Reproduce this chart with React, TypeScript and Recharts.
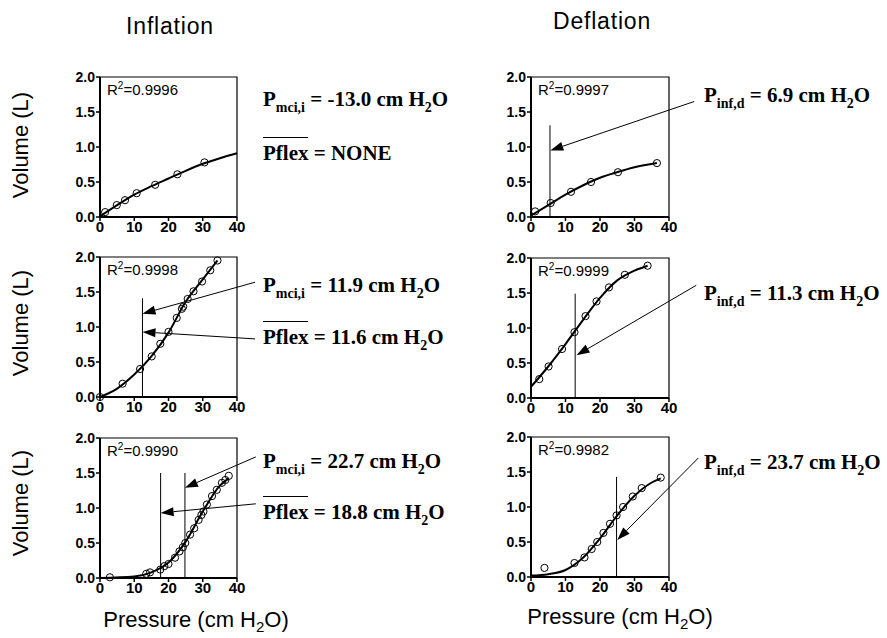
import React from 'react';
import { ComposedChart, Line, Scatter, XAxis, YAxis, ReferenceLine, ReferenceArea } from 'recharts';

type Pt = { x: number; y: number };
const pts = (rows: number[][]): Pt[] => rows.map(([x, y]) => ({ x, y }));

// axis ticks
const pressureTicks = [0, 10, 20, 30, 40];
const volumeTicks = [0, 0.5, 1.0, 1.5, 2.0];

// Inflation, top row
const inflTopPoints = pts([[1.5, 0.07], [4.9, 0.17], [7.3, 0.24], [10.7, 0.34], [16.1, 0.46], [22.6, 0.61], [30.5, 0.78]]);
const inflTopCurve = pts([[0, 0.01], [5, 0.17], [10, 0.32], [15, 0.44], [20, 0.55], [25, 0.66], [30, 0.76], [35, 0.84], [40, 0.91]]);

// Inflation, middle row
const inflMidPoints = pts([[0, 0], [6.6, 0.19], [11.7, 0.4], [15.1, 0.58], [17.6, 0.76], [20.0, 0.93], [22.4, 1.13], [23.9, 1.26], [24.3, 1.29], [25.6, 1.4], [27.3, 1.51], [29.8, 1.65], [32.2, 1.81], [34.3, 1.95]]);
const inflMidCurve = pts([[0, 0], [5, 0.12], [10, 0.32], [15, 0.58], [20, 0.92], [25, 1.36], [30, 1.68], [34.3, 1.95]]);
const inflMidMarkers = [12.4];

// Inflation, bottom row
const inflBotPoints = pts([[2.9, 0.01], [13.5, 0.06], [14.6, 0.08], [17.6, 0.12], [18.8, 0.17], [20.0, 0.2], [21.9, 0.29], [23.2, 0.38], [24.2, 0.44], [24.9, 0.5], [26.3, 0.62], [27.5, 0.71], [28.8, 0.83], [29.6, 0.9], [30.2, 0.95], [31.2, 1.05], [32.7, 1.17], [34.1, 1.26], [35.6, 1.36], [36.6, 1.4], [37.6, 1.46]]);
const inflBotCurve = pts([[0, 0], [10, 0.02], [15, 0.08], [20, 0.22], [25, 0.52], [30, 0.95], [35, 1.32], [37.5, 1.42]]);
const inflBotMarkers = [17.7, 24.8];

// Deflation, top row
const deflTopPoints = pts([[1.2, 0.08], [5.7, 0.2], [11.6, 0.36], [17.4, 0.5], [25.2, 0.64], [36.5, 0.77]]);
const deflTopCurve = pts([[0, 0.02], [5, 0.17], [10, 0.32], [15, 0.45], [20, 0.56], [25, 0.64], [30, 0.71], [36.5, 0.77]]);
const deflTopMarkers = [5.5];

// Deflation, middle row
const deflMidPoints = pts([[2.4, 0.27], [5.1, 0.45], [9.0, 0.7], [12.6, 0.94], [15.8, 1.17], [19.0, 1.38], [22.6, 1.58], [27.2, 1.76], [33.8, 1.89]]);
const deflMidCurve = pts([[0, 0.16], [5, 0.45], [10, 0.77], [15, 1.11], [20, 1.43], [25, 1.68], [30, 1.82], [33.8, 1.89]]);
const deflMidMarkers = [12.8];

// Deflation, bottom row
const deflBotPoints = pts([[3.9, 0.13], [12.6, 0.2], [15.5, 0.28], [17.6, 0.4], [19.2, 0.5], [21.0, 0.63], [22.9, 0.76], [24.8, 0.88], [26.7, 1.0], [29.5, 1.15], [32.1, 1.27], [37.6, 1.42]]);
const deflBotCurve = pts([[0, 0.02], [5, 0.04], [10, 0.1], [15, 0.27], [20, 0.55], [25, 0.88], [30, 1.16], [35, 1.35], [37.6, 1.41]]);
const deflBotMarkers = [24.8];

const SANS = '"Liberation Sans", Arial, sans-serif';
const SERIF = '"Liberation Serif", "Times New Roman", serif';

const Arrow = (p: any) => {
  const { x1, y1, x2, y2 } = p;
  const a = Math.atan2(y2 - y1, x2 - x1);
  const len = 13, w = 4.5;
  const bx = x2 - len * Math.cos(a);
  const by = y2 - len * Math.sin(a);
  const head = `${x2},${y2} ${bx + w * Math.sin(a)},${by - w * Math.cos(a)} ${bx - w * Math.sin(a)},${by + w * Math.cos(a)}`;
  return (
    <g>
      <line x1={x1} y1={y1} x2={bx} y2={by} stroke="#000" strokeWidth={1} />
      <polygon points={head} fill="#000" />
    </g>
  );
};

const OpenDot = (p: any) => (
  <circle cx={p.cx} cy={p.cy} r={3.6} fill="none" stroke="#000" strokeWidth={1} />
);

interface PanelProps {
  left: number;
  top: number;
  width: number;
  plotW: number;
  points: Pt[];
  curve: Pt[];
  markers?: number[];
  markerTop?: number;
  arrows?: { from: Pt; to: Pt }[];
  r2: string;
}

const Panel = ({ left, top, width, plotW, points, curve, markers = [], markerTop = 1.4, arrows = [], r2 }: PanelProps) => {
  const yw = 44;
  const mt = 10;
  const plotH = 140;
  const xh = 26;
  return (
    <div style={{ position: 'absolute', left, top }}>
      <ComposedChart
        width={width}
        height={mt + plotH + xh}
        margin={{ top: mt, right: width - yw - plotW, bottom: 0, left: 0 }}
      >
        <XAxis
          dataKey="x"
          type="number"
          domain={[0, 40]}
          ticks={pressureTicks}
          height={xh}
          tickSize={4}
          tickMargin={0}
          axisLine={{ stroke: '#000', strokeWidth: 2 }}
          tickLine={{ stroke: '#000', strokeWidth: 1.5 }}
          tick={{ fill: '#000', fontSize: 15, fontWeight: 'bold', fontFamily: SANS }}
          interval={0}
        />
        <YAxis
          dataKey="y"
          type="number"
          domain={[0, 2]}
          ticks={volumeTicks}
          width={yw}
          tickSize={4}
          tickMargin={1}
          axisLine={{ stroke: '#000', strokeWidth: 2 }}
          tickLine={{ stroke: '#000', strokeWidth: 1.5 }}
          tick={{ fill: '#000', fontSize: 14, fontWeight: 'bold', fontFamily: SANS }}
          tickFormatter={(v: number) => v.toFixed(1)}
          interval={0}
        />
        <ReferenceArea x1={0} x2={40} y1={0} y2={2} fill="none" stroke="#000" strokeWidth={1.2} ifOverflow="visible" />
        {markers.map((m, i) => (
          <ReferenceLine
            key={`m-${i}`}
            segment={[{ x: m, y: 0 }, { x: m, y: markerTop }]}
            stroke="#000"
            strokeWidth={1}
            ifOverflow="visible"
          />
        ))}
        <Line data={curve} dataKey="y" type="monotone" stroke="#000" strokeWidth={2} dot={false} isAnimationActive={false} />
        <Scatter data={points} dataKey="y" shape={OpenDot} isAnimationActive={false} />
        {arrows.map((a, i) => (
          <ReferenceLine key={`a-${i}`} segment={[a.from, a.to]} ifOverflow="visible" shape={Arrow} />
        ))}
      </ComposedChart>
      <div
        style={{
          position: 'absolute',
          left: yw + 7,
          top: mt + 3,
          fontFamily: SANS,
          fontSize: 15,
          color: '#000',
          whiteSpace: 'nowrap',
        }}
      >
        R<sup style={{ fontSize: 10 }}>2</sup>={r2}
      </div>
    </div>
  );
};

const Sub = ({ children }: { children: React.ReactNode }) => (
  <span style={{ fontSize: 14, position: 'relative', top: 6 }}>{children}</span>
);

const Note = ({ left, cy, children }: { left: number; cy: number; children: React.ReactNode }) => (
  <div
    style={{
      position: 'absolute',
      left,
      top: cy - 12,
      fontFamily: SERIF,
      fontWeight: 'bold',
      fontSize: 21,
      lineHeight: '24px',
      whiteSpace: 'nowrap',
      color: '#000',
    }}
  >
    {children}
  </div>
);

const Pflex = () => <span style={{ borderTop: '1.5px solid #000', paddingTop: 3 }}>Pflex</span>;

const H2O = () => (
  <>
    H<Sub>2</Sub>O
  </>
);

const VolumeLabel = ({ cy }: { cy: number }) => (
  <div
    style={{
      position: 'absolute',
      left: 21 - 80,
      top: cy - 13,
      width: 160,
      height: 26,
      lineHeight: '26px',
      textAlign: 'center',
      transform: 'rotate(-90deg)',
      fontFamily: SANS,
      fontSize: 22,
      whiteSpace: 'nowrap',
    }}
  >
    Volume (L)
  </div>
);

const PressureLabel = ({ cx, cy }: { cx: number; cy: number }) => (
  <div
    style={{
      position: 'absolute',
      left: cx - 130,
      top: cy - 13,
      width: 260,
      textAlign: 'center',
      fontFamily: SANS,
      fontSize: 22,
      lineHeight: '26px',
      whiteSpace: 'nowrap',
    }}
  >
    Pressure (cm H<span style={{ fontSize: 15, position: 'relative', top: 5 }}>2</span>O)
  </div>
);

const titleStyle: React.CSSProperties = {
  position: 'absolute',
  width: 160,
  textAlign: 'center',
  fontFamily: SANS,
  fontSize: 23,
  letterSpacing: 0.8,
  whiteSpace: 'nowrap',
};

export default function App() {
  const L = 56;
  const R = 487;
  return (
    <div style={{ position: 'absolute', left: 0, top: 0, width: 887, height: 638, background: '#fff', overflow: 'hidden' }}>
      <div style={{ ...titleStyle, left: 90, top: 13 }}>Inflation</div>
      <div style={{ ...titleStyle, left: 522, top: 8 }}>Deflation</div>

      <VolumeLabel cy={145} />
      <VolumeLabel cy={323} />
      <VolumeLabel cy={503} />

      <Panel left={L} top={67} width={460} plotW={137} points={inflTopPoints} curve={inflTopCurve} r2="0.9996" />
      <Panel
        left={L}
        top={247}
        width={460}
        plotW={137}
        points={inflMidPoints}
        curve={inflMidCurve}
        markers={inflMidMarkers}
        markerTop={1.41}
        arrows={[
          { from: { x: 45.3, y: 1.64 }, to: { x: 12.4, y: 1.19 } },
          { from: { x: 45.3, y: 0.83 }, to: { x: 12.4, y: 0.93 } },
        ]}
        r2="0.9998"
      />
      <Panel
        left={L}
        top={428}
        width={460}
        plotW={137}
        points={inflBotPoints}
        curve={inflBotCurve}
        markers={inflBotMarkers}
        markerTop={1.5}
        arrows={[
          { from: { x: 45.5, y: 1.73 }, to: { x: 24.8, y: 1.29 } },
          { from: { x: 45.5, y: 1.06 }, to: { x: 17.7, y: 0.93 } },
        ]}
        r2="0.9990"
      />

      <Panel
        left={R}
        top={67}
        width={400}
        plotW={138}
        points={deflTopPoints}
        curve={deflTopCurve}
        markers={deflTopMarkers}
        markerTop={1.31}
        arrows={[{ from: { x: 47.3, y: 1.65 }, to: { x: 5.6, y: 0.95 } }]}
        r2="0.9997"
      />
      <Panel
        left={R}
        top={248}
        width={400}
        plotW={138}
        points={deflMidPoints}
        curve={deflMidCurve}
        markers={deflMidMarkers}
        markerTop={1.49}
        arrows={[{ from: { x: 47.9, y: 1.61 }, to: { x: 13.2, y: 0.61 } }]}
        r2="0.9999"
      />
      <Panel
        left={R}
        top={427}
        width={400}
        plotW={138}
        points={deflBotPoints}
        curve={deflBotCurve}
        markers={deflBotMarkers}
        markerTop={1.43}
        arrows={[{ from: { x: 48.5, y: 1.7 }, to: { x: 25.0, y: 0.53 } }]}
        r2="0.9982"
      />

      <Note left={263} cy={99}>
        P<Sub>mci,i</Sub> = -13.0 cm <H2O />
      </Note>
      <Note left={263} cy={153}>
        <Pflex /> = NONE
      </Note>
      <Note left={263} cy={285}>
        P<Sub>mci,i</Sub> = 11.9 cm <H2O />
      </Note>
      <Note left={263} cy={337}>
        <Pflex /> = 11.6 cm <H2O />
      </Note>
      <Note left={263} cy={461}>
        P<Sub>mci,i</Sub> = 22.7 cm <H2O />
      </Note>
      <Note left={263} cy={512}>
        <Pflex /> = 18.8 cm <H2O />
      </Note>
      <Note left={704} cy={95}>
        P<Sub>inf,d</Sub> = 6.9 cm <H2O />
      </Note>
      <Note left={704} cy={293}>
        P<Sub>inf,d</Sub> = 11.3 cm <H2O />
      </Note>
      <Note left={704} cy={462}>
        P<Sub>inf,d</Sub> = 23.7 cm <H2O />
      </Note>

      <PressureLabel cx={196} cy={620} />
      <PressureLabel cx={620} cy={617} />
    </div>
  );
}
